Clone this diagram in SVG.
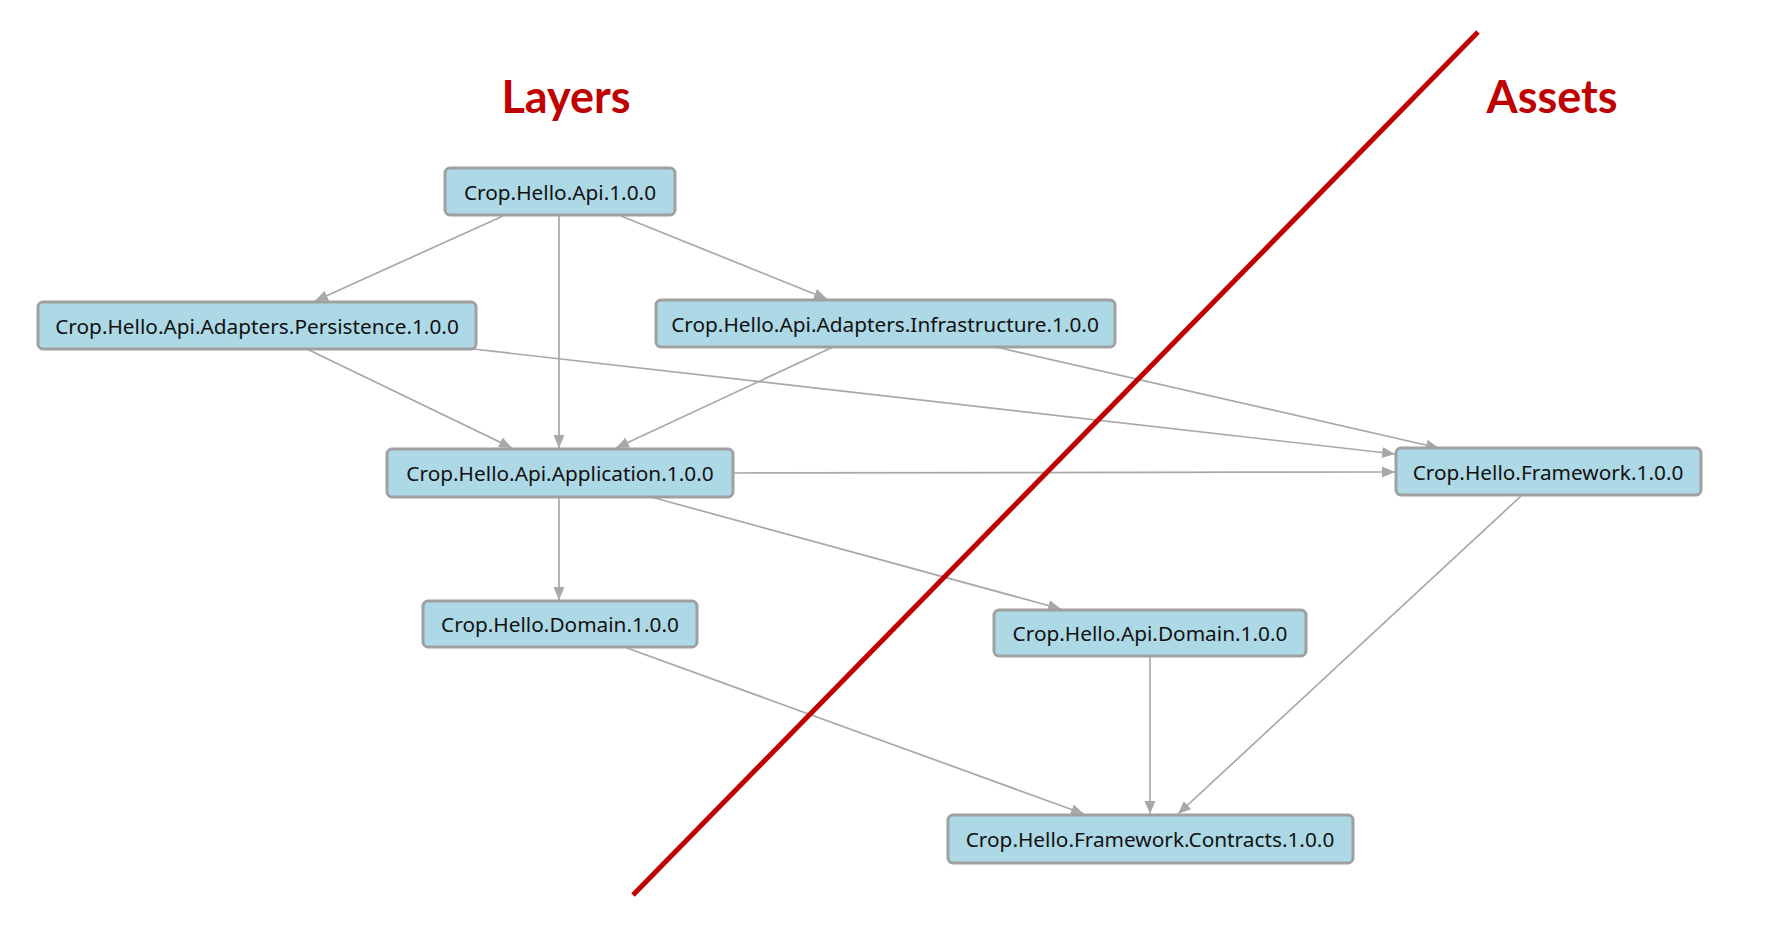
<svg xmlns="http://www.w3.org/2000/svg" width="1765" height="938" viewBox="0 0 1765 938">
<style>
.node rect{fill:#add8e6;stroke:#a0a0a0;stroke-width:3;}
.node text{font-family:"Noto Sans","Open Sans",sans-serif;font-size:20.8px;fill:#111;text-anchor:middle;dominant-baseline:central;}
.edge{stroke:#a8a8a8;stroke-width:1.7;fill:none;marker-end:url(#arr);}
.title{font-family:Lato,"Liberation Sans",sans-serif;font-weight:bold;font-size:45px;fill:#c00000;text-anchor:middle;}
</style>
<defs>
<marker id="arr" viewBox="0 0 13 11" refX="13" refY="5.5" markerWidth="13" markerHeight="11" markerUnits="userSpaceOnUse" orient="auto">
<path d="M0,0 L13,5.5 L0,11 Z" fill="#a8a8a8"/>
</marker>
</defs>
<rect width="1765" height="938" fill="#ffffff"/>
<g id="connectors">
<line class="edge" x1="503" y1="216" x2="315" y2="301"/>
<line class="edge" x1="559" y1="216" x2="559" y2="448"/>
<line class="edge" x1="621" y1="216" x2="827" y2="299"/>
<line class="edge" x1="307" y1="349" x2="512" y2="448"/>
<line class="edge" x1="473" y1="349" x2="1395" y2="454"/>
<line class="edge" x1="833" y1="347" x2="616" y2="448"/>
<line class="edge" x1="996" y1="347" x2="1439" y2="448"/>
<line class="edge" x1="733" y1="473" x2="1395" y2="472"/>
<line class="edge" x1="559" y1="497" x2="559" y2="600"/>
<line class="edge" x1="651" y1="497" x2="1061" y2="609"/>
<line class="edge" x1="627" y1="648" x2="1084" y2="814"/>
<line class="edge" x1="1150" y1="657" x2="1150" y2="814"/>
<line class="edge" x1="1521" y1="496" x2="1178" y2="814"/>
</g>
<g id="n-api" class="node"><rect x="445" y="168" width="230" height="47" rx="5"/><text x="560" y="192">Crop.Hello.Api.1.0.0</text></g>
<g id="n-persistence" class="node"><rect x="38" y="302" width="438" height="47" rx="5"/><text x="257" y="326">Crop.Hello.Api.Adapters.Persistence.1.0.0</text></g>
<g id="n-infrastructure" class="node"><rect x="656" y="300" width="459" height="47" rx="5"/><text x="885" y="324">Crop.Hello.Api.Adapters.Infrastructure.1.0.0</text></g>
<g id="n-application" class="node"><rect x="387" y="449" width="346" height="48" rx="5"/><text x="560" y="473">Crop.Hello.Api.Application.1.0.0</text></g>
<g id="n-framework" class="node"><rect x="1396" y="448" width="305" height="47" rx="5"/><text x="1548" y="472">Crop.Hello.Framework.1.0.0</text></g>
<g id="n-domain" class="node"><rect x="423" y="601" width="274" height="46" rx="5"/><text x="560" y="624">Crop.Hello.Domain.1.0.0</text></g>
<g id="n-apidomain" class="node"><rect x="994" y="610" width="312" height="46" rx="5"/><text x="1150" y="633">Crop.Hello.Api.Domain.1.0.0</text></g>
<g id="n-contracts" class="node"><rect x="948" y="815" width="405" height="48" rx="5"/><text x="1150" y="839">Crop.Hello.Framework.Contracts.1.0.0</text></g>
<line x1="633" y1="895" x2="1478" y2="32" stroke="#c00000" stroke-width="5"/>
<text class="title" x="566" y="113">Layers</text>
<text class="title" x="1552" y="113">Assets</text>
</svg>
